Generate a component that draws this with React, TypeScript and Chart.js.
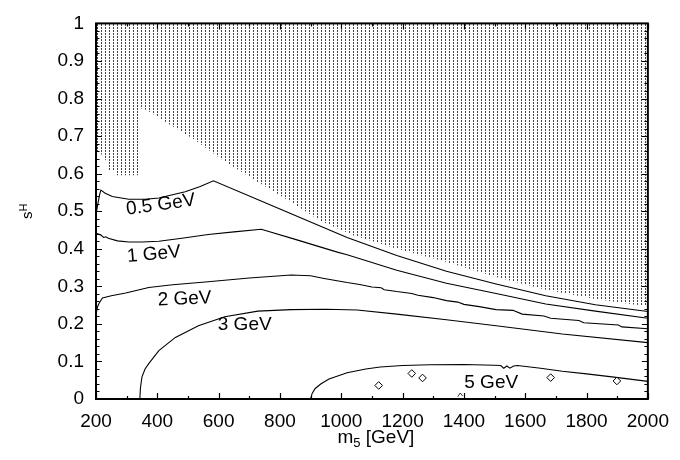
import React, { useEffect, useRef } from 'react';
import { Chart, registerables } from 'chart.js';

Chart.register(...registerables);

// ---- axis ticks ----
const X_TICKS = [200, 400, 600, 800, 1000, 1200, 1400, 1600, 1800, 2000];
const Y_TICKS = [0, 0.1, 0.2, 0.3, 0.4, 0.5, 0.6, 0.7, 0.8, 0.9, 1];

// ---- excluded (hatched) region lower boundary ----
const hatchX = [200, 215, 222, 232, 236, 262, 266, 340, 342, 363, 440, 518, 609, 717, 825, 933, 1041, 1181, 1343, 1505, 1667, 1829, 1960, 2000];
const hatchY = [0.66, 0.66, 0.637, 0.637, 0.609, 0.609, 0.596, 0.596, 0.775, 0.770, 0.731, 0.692, 0.638, 0.583, 0.530, 0.474, 0.435, 0.400, 0.365, 0.325, 0.291, 0.266, 0.251, 0.249];

// ---- contours ----
const c05X = [200, 205, 212, 216, 230, 253, 307, 361, 405, 491, 540, 583, 800, 1019, 1181, 1343, 1505, 1667, 1829, 2000];
const c05Y = [0.49, 0.515, 0.545, 0.556, 0.548, 0.539, 0.532, 0.532, 0.535, 0.552, 0.566, 0.581, 0.506, 0.430, 0.382, 0.340, 0.306, 0.275, 0.251, 0.233];

const c1X = [200, 215, 225, 232, 240, 270, 307, 350, 405, 480, 566, 650, 739, 850, 987, 1019, 1181, 1343, 1505, 1667, 1829, 2000];
const c1Y = [0.441, 0.437, 0.430, 0.432, 0.428, 0.421, 0.418, 0.418, 0.420, 0.428, 0.438, 0.445, 0.452, 0.425, 0.391, 0.384, 0.343, 0.308, 0.281, 0.253, 0.234, 0.215];

const c2X = [200, 205, 210, 221, 250, 297, 372, 450, 566, 700, 836, 900, 944, 1019, 1060, 1100, 1130, 1140, 1181, 1230, 1250, 1300, 1343, 1380, 1400, 1450, 1505, 1560, 1590, 1661, 1683, 1775, 1791, 1904, 1915, 2000];
const c2Y = [0.225, 0.245, 0.255, 0.269, 0.275, 0.282, 0.297, 0.304, 0.312, 0.322, 0.330, 0.328, 0.321, 0.310, 0.305, 0.298, 0.296, 0.291, 0.286, 0.281, 0.276, 0.270, 0.262, 0.258, 0.252, 0.246, 0.238, 0.236, 0.226, 0.221, 0.215, 0.209, 0.203, 0.197, 0.192, 0.187];

const c3X = [343, 345, 350, 360, 372, 405, 459, 534, 620, 728, 836, 950, 1052, 1181, 1343, 1505, 1721, 2000];
const c3Y = [0, 0.03, 0.059, 0.08, 0.094, 0.129, 0.164, 0.195, 0.219, 0.234, 0.238, 0.239, 0.237, 0.226, 0.211, 0.195, 0.173, 0.150];

const c5X = [900, 905, 915, 933, 960, 1019, 1080, 1127, 1200, 1289, 1400, 1500, 1520, 1530, 1540, 1550, 1562, 1575, 1650, 1721, 1800, 1883, 2000];
const c5Y = [0, 0.015, 0.028, 0.040, 0.053, 0.070, 0.080, 0.085, 0.089, 0.091, 0.092, 0.090, 0.089, 0.082, 0.088, 0.082, 0.088, 0.089, 0.082, 0.074, 0.067, 0.059, 0.047];

const blipX = [1380, 1388, 1396];
const blipY = [0.006, 0.016, 0.008];

const diamondX = [1122, 1230, 1265, 1683, 1899];
const diamondY = [0.036, 0.068, 0.056, 0.057, 0.048];

// ---- contour labels ----
const labelText = ['0.5 GeV', '1 GeV', '2 GeV', '3 GeV', '5 GeV'];
const labelX = [411, 389, 489, 685, 1489];
const labelY = [0.517, 0.385, 0.266, 0.197, 0.044];
const labelAngle = [-8, -5, -2.5, 0, 0];

const FONT = '"Liberation Sans", Arial, Helvetica, sans-serif';

const zip = (xs: number[], ys: number[]) => xs.map((x, i) => ({ x, y: ys[i] }));

export default function App() {
  const ref = useRef<HTMLCanvasElement | null>(null);

  useEffect(() => {
    const canvas = ref.current;
    if (!canvas) return;
    const ctx = canvas.getContext('2d')!;

    const pc = document.createElement('canvas');
    pc.width = 4;
    pc.height = 3;
    const pctx = pc.getContext('2d')!;
    pctx.fillStyle = '#444';
    pctx.fillRect(1, 0, 1, 2);
    const pattern = ctx.createPattern(pc, 'repeat')!;

    const lineDs = (xs: number[], ys: number[]) => ({
      data: zip(xs, ys),
      borderColor: '#000',
      borderWidth: 1.1,
      pointRadius: 0,
      fill: false,
      tension: 0,
      order: 1,
    });

    const overlay = {
      id: 'overlay',
      afterDraw(chart: any) {
        const c = chart.ctx;
        const xs = chart.scales.x;
        const ys = chart.scales.y;
        const { left, right, top, bottom } = chart.chartArea;
        c.save();
        // contour labels
        c.fillStyle = '#000';
        c.font = `19px ${FONT}`;
        c.textAlign = 'center';
        c.textBaseline = 'middle';
        labelText.forEach((t, i) => {
          c.save();
          c.translate(xs.getPixelForValue(labelX[i]), ys.getPixelForValue(labelY[i]));
          c.rotate((labelAngle[i] * Math.PI) / 180);
          c.fillText(t, 0, 0);
          c.restore();
        });
        // ticks
        c.strokeStyle = '#000';
        c.lineWidth = 1.2;
        c.beginPath();
        for (let v = X_TICKS[0]; v <= X_TICKS[X_TICKS.length - 1] + 1e-9; v += 100) {
          const major = X_TICKS.includes(v);
          const len = major ? 6 : 3;
          const px = Math.round(xs.getPixelForValue(v)) + 0.5;
          c.moveTo(px, bottom);
          c.lineTo(px, bottom - len);
          c.moveTo(px, top);
          c.lineTo(px, top + len);
        }
        for (let k = 0; k <= 50; k++) {
          const v = k * 0.02;
          const major = k % 5 === 0;
          const len = major ? 6 : 3.5;
          const py = Math.round(ys.getPixelForValue(v)) + 0.5;
          c.moveTo(left, py);
          c.lineTo(left + len, py);
          c.moveTo(right, py);
          c.lineTo(right - len, py);
        }
        c.stroke();
        // frame
        c.lineWidth = 2;
        c.strokeRect(left, top, right - left, bottom - top);
        // x title
        c.textAlign = 'left';
        c.textBaseline = 'alphabetic';
        const big = `19px ${FONT}`;
        const small = `13px ${FONT}`;
        c.font = big;
        const wm = c.measureText('m').width;
        const wr = c.measureText(' [GeV]').width;
        c.font = small;
        const w5 = c.measureText('5').width;
        const total = wm + w5 + wr;
        const x0 = (left + right) / 2 - total / 2 + 4;
        const by = 443;
        c.font = big;
        c.fillText('m', x0, by);
        c.font = small;
        c.fillText('5', x0 + wm, by + 4);
        c.font = big;
        c.fillText(' [GeV]', x0 + wm + w5, by);
        // y title (rotated)
        c.save();
        c.translate(32, (top + bottom) / 2);
        c.rotate(-Math.PI / 2);
        const sFont = `15px ${FONT}`;
        const hFont = `11px ${FONT}`;
        c.font = sFont;
        const ws = c.measureText('s').width;
        c.font = hFont;
        const wh = c.measureText('H').width;
        const sx = -(ws + wh) / 2;
        c.font = sFont;
        c.fillText('s', sx, 0);
        c.font = hFont;
        c.fillText('H', sx + ws, -5.5);
        c.restore();
        c.restore();
      },
    };

    const chart = new Chart(ctx, {
      type: 'line',
      data: {
        datasets: [
          {
            data: zip(hatchX, hatchY),
            borderWidth: 0,
            borderColor: 'rgba(0,0,0,0)',
            pointRadius: 0,
            fill: 'end',
            backgroundColor: pattern as any,
            tension: 0,
            order: 10,
          },
          lineDs(c05X, c05Y),
          lineDs(c1X, c1Y),
          lineDs(c2X, c2Y),
          lineDs(c3X, c3Y),
          lineDs(c5X, c5Y),
          { ...lineDs(blipX, blipY), borderWidth: 0.8 },
          {
            data: zip(diamondX, diamondY),
            showLine: false,
            pointStyle: 'rectRot',
            pointRadius: 3.8,
            pointBorderWidth: 1,
            pointBorderColor: '#000',
            pointBackgroundColor: '#fff',
            order: 0,
          } as any,
        ],
      },
      options: {
        responsive: false,
        animation: false,
        devicePixelRatio: 1,
        layout: { padding: { left: 0, right: 28, top: 17, bottom: 0 } },
        plugins: { legend: { display: false }, tooltip: { enabled: false } },
        events: [],
        scales: {
          x: {
            type: 'linear',
            min: 200,
            max: 2000,
            grid: { display: false, drawTicks: false },
            border: { display: false },
            afterBuildTicks: (s: any) => {
              s.ticks = X_TICKS.map((v) => ({ value: v }));
            },
            afterFit: (s: any) => {
              s.height = 61;
            },
            ticks: {
              color: '#000',
              font: { family: FONT, size: 19 },
              padding: 11,
              maxRotation: 0,
              autoSkip: false,
              callback: (v: any) => String(v),
            },
          },
          y: {
            type: 'linear',
            min: 0,
            max: 1,
            grid: { display: false, drawTicks: false },
            border: { display: false },
            afterBuildTicks: (s: any) => {
              s.ticks = Y_TICKS.map((v) => ({ value: v }));
            },
            afterFit: (s: any) => {
              s.width = 96;
            },
            ticks: {
              color: '#000',
              font: { family: FONT, size: 19 },
              padding: 12,
              autoSkip: false,
              callback: (v: any) => String(Number(Number(v).toFixed(1))),
            },
          },
        },
      },
      plugins: [overlay],
    });

    return () => chart.destroy();
  }, []);

  return (
    <div style={{ position: 'fixed', left: 0, top: 0, width: 680, height: 460, background: '#fff' }}>
      <canvas ref={ref} width={680} height={460} style={{ width: 680, height: 460, display: 'block' }} />
    </div>
  );
}
